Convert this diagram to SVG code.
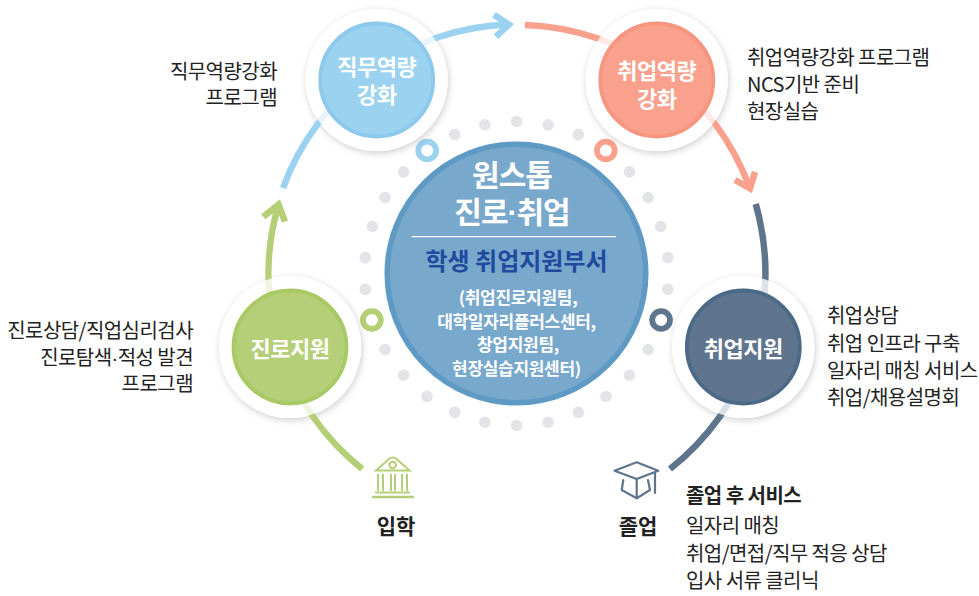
<svg xmlns="http://www.w3.org/2000/svg" width="979" height="596" viewBox="0 0 979 596">
<defs>
<filter id="sh" x="-20%" y="-20%" width="140%" height="140%"><feDropShadow dx="1" dy="2" stdDeviation="3.5" flood-color="#000" flood-opacity="0.2"/></filter>
<style>
text{font-family:"Noto Sans CJK KR","Noto Sans",sans-serif}
.halo{fill:#fff}
.veil{fill:#fff;fill-opacity:.78}
.arc{fill:none;stroke-width:6.5;stroke-linejoin:miter;stroke-miterlimit:10}
.dot{fill:#e3e4e7}
.ring{fill:#fff;stroke-width:5.8}
.side{font-size:20px;fill:#222;letter-spacing:-.55px;font-weight:400}
.end{text-anchor:end}
.nl{font-size:22px;fill:#fff;font-weight:700;text-anchor:middle;letter-spacing:-.5px}
.bold{font-size:21px;fill:#222;font-weight:700;text-anchor:middle}
.sub{font-size:17px;fill:#fff;font-weight:700;text-anchor:middle;letter-spacing:-.3px}
.mid{font-family:"Liberation Sans",sans-serif}
.gre{stroke:#b4cf77}.blu{stroke:#9bd2ef}.sal{stroke:#f9a18c}.dar{stroke:#5e758d}
</style>
</defs>
<rect width="979" height="596" fill="#fff"/>
<g id="dots" class="dot">
<circle cx="516.5" cy="121.5" r="5.8"/><circle cx="548.1" cy="124.8" r="5.8"/><circle cx="578.3" cy="134.6" r="5.8"/><circle cx="629.5" cy="171.8" r="5.8"/><circle cx="648.1" cy="197.5" r="5.8"/><circle cx="660.7" cy="226.5" r="5.8"/><circle cx="667.7" cy="257.6" r="5.8"/><circle cx="667.7" cy="289.4" r="5.8"/><circle cx="648.1" cy="349.5" r="5.8"/><circle cx="629.5" cy="375.2" r="5.8"/><circle cx="606" cy="396.5" r="5.8"/><circle cx="578.3" cy="412.4" r="5.8"/><circle cx="548.1" cy="422.2" r="5.8"/><circle cx="516.5" cy="425.5" r="5.8"/><circle cx="484.9" cy="422.2" r="5.8"/><circle cx="454.7" cy="412.4" r="5.8"/><circle cx="427" cy="396.5" r="5.8"/><circle cx="403.5" cy="375.2" r="5.8"/><circle cx="384.9" cy="349.5" r="5.8"/><circle cx="365.3" cy="289.4" r="5.8"/><circle cx="365.3" cy="257.6" r="5.8"/><circle cx="372.3" cy="226.5" r="5.8"/><circle cx="384.9" cy="197.5" r="5.8"/><circle cx="403.5" cy="171.8" r="5.8"/><circle cx="454.7" cy="134.6" r="5.8"/><circle cx="484.9" cy="124.8" r="5.8"/>
</g>
<g id="rings">
<circle class="ring blu" cx="427.2" cy="150.5" r="8.9"/>
<circle class="ring sal" cx="605.8" cy="150.5" r="8.9"/>
<circle class="ring gre" cx="371.9" cy="320" r="8.9"/>
<circle class="ring dar" cx="661.1" cy="320" r="8.9"/>
</g>
<g id="halos">
<circle class="halo" filter="url(#sh)" cx="376.7" cy="80" r="71"/>
<circle class="halo" filter="url(#sh)" cx="656.8" cy="80" r="71"/>
<circle class="halo" filter="url(#sh)" cx="290" cy="347" r="71"/>
<circle class="halo" filter="url(#sh)" cx="743.3" cy="347" r="71"/>
</g>
<g id="connectors">
<path class="arc gre" d="M362.2 469A249 249 0 0 1 278.5 204.5"/>
<polyline class="arc gre" points="263.3,216.7 278.5,204.5 285,221.7"/>
<path class="arc blu" d="M283 188A249 249 0 0 1 508.8 24.5"/>
<polyline class="arc blu" points="494,14.7 508.8,24.5 496,36.7"/>
<path class="arc sal" d="M525 25A249 249 0 0 1 750 188.5"/>
<polyline class="arc sal" points="735,180 750,188.5 755,171.7"/>
<path class="arc dar" d="M755.7 204A249 249 0 0 1 670 469"/>
</g>
<g id="node-center">
<circle cx="516.5" cy="273.5" r="129.3" fill="#79a8cd" stroke="#5f9ac5" stroke-width="5.5"/>
<text x="512" y="186" text-anchor="middle" font-size="30" font-weight="700" fill="#fff" letter-spacing="-1">원스톱</text>
<text x="512" y="223" text-anchor="middle" font-size="30" font-weight="700" fill="#fff" letter-spacing="-1">진로<tspan class="mid">·</tspan>취업</text>
<line x1="411.7" y1="236.6" x2="616" y2="236.6" stroke="#fff" stroke-width="1.1"/>
<text x="516.5" y="270" text-anchor="middle" font-size="24" font-weight="700" fill="#1f4a9e">학생 취업지원부서</text>
<text class="sub" x="518" y="304">(취업진로지원팀,</text>
<text class="sub" x="516.5" y="327.5">대학일자리플러스센터,</text>
<text class="sub" x="518" y="351">창업지원팀,</text>
<text class="sub" x="516.5" y="374.5">현장실습지원센터)</text>
</g>
<g id="node-jikmu">
<circle class="veil" cx="376.7" cy="80" r="71"/>
<circle cx="376.7" cy="80" r="56.5" fill="#9bd2ef" stroke="#8cc9ec" stroke-width="3.8"/>
<text class="nl" x="376.7" y="75">직무역량</text><text class="nl" x="376.7" y="103">강화</text>
</g>
<g id="node-chwieop">
<circle class="veil" cx="656.8" cy="80" r="71"/>
<circle cx="656.8" cy="80" r="56.5" fill="#f9a18c" stroke="#f79680" stroke-width="3.8"/>
<text class="nl" x="656.8" y="79">취업역량</text><text class="nl" x="656.8" y="107">강화</text>
</g>
<g id="node-jinro">
<circle class="veil" cx="290" cy="347" r="71"/>
<circle cx="290" cy="347" r="56.5" fill="#b4cf77" stroke="#a8c964" stroke-width="3.8"/>
<text class="nl" x="290" y="357">진로지원</text>
</g>
<g id="node-support">
<circle class="veil" cx="743.3" cy="347" r="71"/>
<circle cx="743.3" cy="347" r="56.5" fill="#5e758d" stroke="#4b6a88" stroke-width="3.8"/>
<text class="nl" x="743.3" y="357">취업지원</text>
</g>
<g id="label-jikmu">
<text class="side end" x="277" y="79">직무역량강화</text><text class="side end" x="277" y="104.5">프로그램</text>
</g>
<g id="label-chwieop">
<text class="side" x="747" y="65">취업역량강화 프로그램</text><text class="side" x="747" y="92">NCS기반 준비</text><text class="side" x="747" y="119">현장실습</text>
</g>
<g id="label-jinro">
<text class="side end" x="193" y="338">진로상담/직업심리검사</text><text class="side end" x="193" y="365">진로탐색<tspan class="mid">·</tspan>적성 발견</text><text class="side end" x="193" y="391">프로그램</text>
</g>
<g id="label-support">
<text class="side" x="827" y="323">취업상담</text><text class="side" x="827" y="351">취업 인프라 구축</text><text class="side" x="827" y="378">일자리 매칭 서비스</text><text class="side" x="827" y="405">취업/채용설명회</text>
</g>
<g id="node-entry">
<g fill="none" stroke="#b4cf77" stroke-width="2">
<path d="M376 470.5L389 459Q392.7 456 396.5 459L409.5 470.5Z"/>
<circle cx="392.7" cy="465" r="3.2"/>
<path d="M378 474V491M383 474V491M391 474V491M395 474V491M402 474V491M407 474V491M375 492.5H410"/>
<path d="M372 497H414" stroke-width="2.4"/>
</g>
<text class="bold" x="396" y="534">입학</text>
</g>
<g id="node-graduate">
<g fill="none" stroke="#5e758d" stroke-width="2.2" stroke-linejoin="round" stroke-linecap="round">
<path d="M614.5 470.7L636.7 462.3L658.3 470.7L636.7 479Z"/>
<path d="M623.3 480L621.7 490L636.7 498.3L650 490L648 480M636.7 479V498.3M655 473V493"/>
</g>
<text class="bold" x="638" y="534">졸업</text>
</g>
<g id="label-graduate">
<text class="side" x="686" y="503" style="font-weight:700">졸업 후 서비스</text>
<text class="side" x="686" y="533">일자리 매칭</text><text class="side" x="686" y="561">취업/면접/직무 적응 상담</text><text class="side" x="686" y="588">입사 서류 클리닉</text>
</g>
</svg>
